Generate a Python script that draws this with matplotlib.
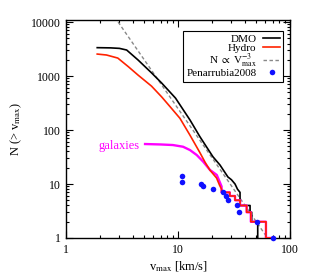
import matplotlib
matplotlib.use("Agg")
import matplotlib.pyplot as plt
from matplotlib.ticker import LogLocator, NullFormatter, FixedLocator, FixedFormatter

plt.rcParams['font.family'] = ['Liberation Serif', 'DejaVu Serif']
plt.rcParams['mathtext.fontset'] = 'stix'

# DMO cumulative vmax function
dmo_v = [1.9, 2.5, 3.0, 3.48, 4.4, 5.82, 7.15, 9.5, 12.8, 15.7, 20.5, 23.7, 27.9, 30.0, 32.3,
         34.0, 35.8, 35.8, 44.0, 44.0, 45.5, 45.5, 51.5, 51.5]
dmo_N = [3350, 3320, 3250, 3030, 1980, 1137, 741, 390, 153, 75, 32, 22.5, 13.5, 12, 10,
         8, 7, 4, 4, 3, 3, 2, 2, 1]

# Hydro cumulative vmax function
hydro_v = [1.9, 2.3, 2.9, 3.6, 4.4, 5.8, 7.15, 8.5, 10.4, 12.8, 15.7, 17.5, 19.3, 22.1, 23.5, 24.5,
           24.5, 29.0, 29.0, 32.3, 32.3, 35.8, 35.8, 41.0, 41.0, 44.7, 44.7, 61.0, 61.0, 69.0]
hydro_N = [2550, 2450, 2150, 1490, 1040, 650, 410, 270, 165, 80, 38, 25, 18, 12.9, 9.5, 8,
           7, 7, 6, 6, 5, 5, 4, 4, 3, 3, 2, 2, 1, 1]

# galaxies in Hydro
gal_v = [5.08, 7.0, 9.0, 11.1, 12.8, 14.7, 16.8, 19.3, 22.2, 24.5,
         24.5, 29.0, 29.0, 32.3, 32.3, 35.8, 35.8, 41.0, 41.0, 44.7, 44.7, 61.0, 61.0, 69.0]
gal_N = [55, 54, 52.7, 49, 42.5, 34.4, 25.9, 18.2, 14.7, 9,
         7, 7, 6, 6, 5, 5, 4, 4, 3, 3, 2, 2, 1, 1]

# power law reference N ∝ V^-3 (endpoints)
pl_v = [2.92, 100.0]
pl_N = [10000.0, 0.25]

# Penarrubia2008 points
pen_v = [10.8, 10.8, 16.1, 16.8, 20.6, 25.1, 26.8, 27.8, 33.8, 35.0, 50.4, 70.0]
pen_N = [14, 11, 10, 9, 8, 7, 6, 5, 4, 3, 2, 1]

xticks = [1, 10, 100]
xticklabels = ['1', '10', '100']
yticks = [1, 10, 100, 1000, 10000]
yticklabels = ['1', '10', '100', '1000', '10000']

fig = plt.figure(figsize=(3.1, 2.8), dpi=100)
ax = fig.add_axes([66/310, 1-238/280, 224/310, 218/280])

red = '#ff2200'
ax.plot(pl_v, pl_N, color='#888888', lw=1.0, dashes=(2.5, 1.8), label=r'N $\propto$ V$^{-3}_{\rm max}$', zorder=2)
ax.plot(dmo_v, dmo_N, color='black', lw=1.2, label='DMO', zorder=3)
ax.plot(gal_v, gal_N, color='#ff00ff', lw=1.7, zorder=3)
ax.plot(hydro_v, hydro_N, color=red, lw=1.2, label='Hydro', zorder=4)
ax.plot(pen_v, pen_N, 'o', color='#1010ff', ms=4, mec='none', label='Penarrubia2008', zorder=5, clip_on=False)

ax.text(4.55, 50, 'galaxies', color='#ff00ff', ha='right', va='center', fontsize=9)

ax.set_xscale('log')
ax.set_yscale('log')
ax.set_xlim(1, 100)
ax.set_ylim(1, 10900)

ax.xaxis.set_major_locator(FixedLocator(xticks))
ax.xaxis.set_major_formatter(FixedFormatter(xticklabels))
ax.yaxis.set_major_locator(FixedLocator(yticks))
ax.yaxis.set_major_formatter(FixedFormatter(yticklabels))
ax.xaxis.set_minor_locator(LogLocator(base=10, subs=range(2, 10)))
ax.yaxis.set_minor_locator(LogLocator(base=10, subs=range(2, 10)))
ax.xaxis.set_minor_formatter(NullFormatter())
ax.yaxis.set_minor_formatter(NullFormatter())
ax.tick_params(which='both', direction='in', top=True, right=True, labelsize=8.5, width=0.8)
ax.tick_params(which='major', length=5, pad=4)
ax.tick_params(which='minor', length=2.5)
for s in ax.spines.values():
    s.set_linewidth(1.0)

ax.set_xlabel(r'v$_{\rm max}$ [km/s]', fontsize=9, labelpad=3)
ax.set_ylabel(r'N (> v$_{\rm max}$)', fontsize=9, labelpad=5)

handles, labels = ax.get_legend_handles_labels()
order = [labels.index(l) for l in ['DMO', 'Hydro', r'N $\propto$ V$^{-3}_{\rm max}$', 'Penarrubia2008']]
leg = ax.legend([handles[i] for i in order], [labels[i] for i in order],
                loc='upper right', bbox_to_anchor=(0.97, 0.95), borderaxespad=0,
                markerfirst=False, fontsize=8, handlelength=1.5, handletextpad=0.6,
                labelspacing=-0.1, borderpad=0.3, fancybox=False, edgecolor='black',
                framealpha=1)
leg.get_frame().set_linewidth(0.8)
for t in leg.get_texts():
    t.set_ha('right')

fig.savefig('out.png', dpi=100)
